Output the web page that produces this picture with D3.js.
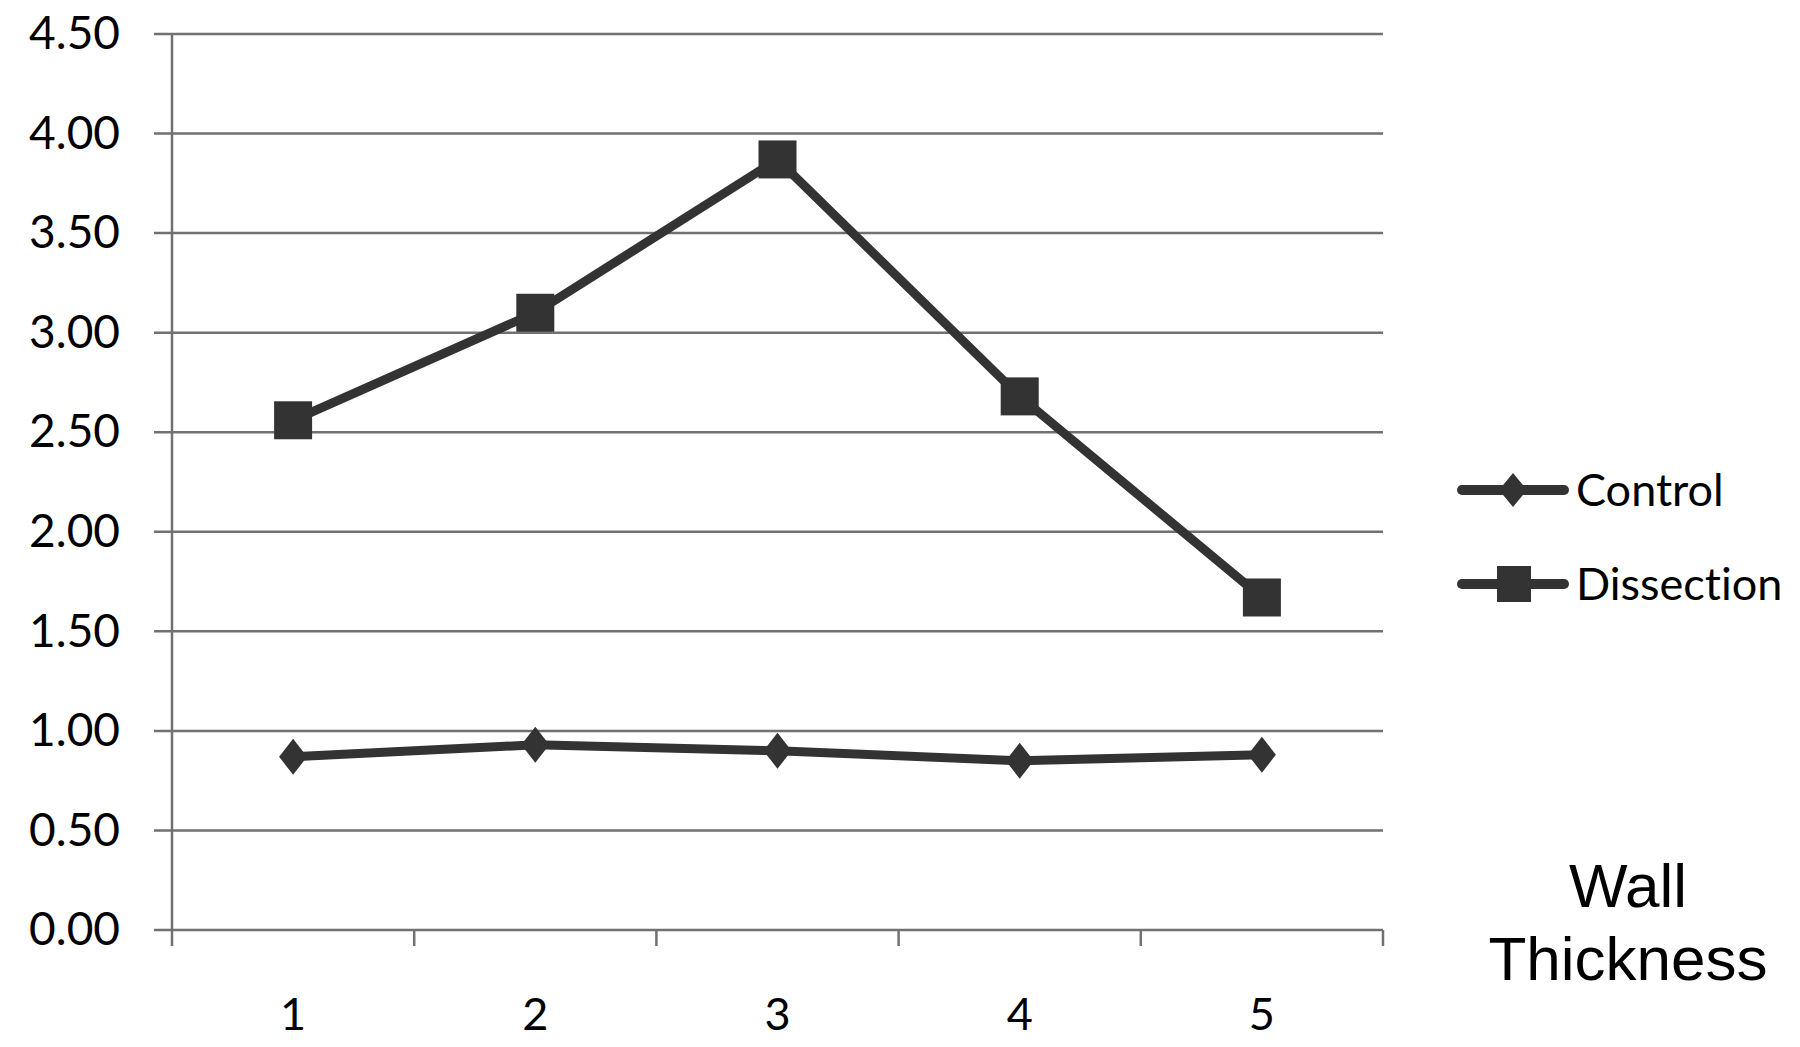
<!DOCTYPE html>
<html>
<head>
<meta charset="utf-8">
<script src="https://cdn.jsdelivr.net/npm/d3@7"></script>
<style>
  html, body { margin: 0; padding: 0; background: #fff; }
  svg { display: block; }
  text { font-family: Lato, "Open Sans", sans-serif; fill: #000; font-variant-ligatures: none; }
</style>
</head>
<body>
<svg width="1800" height="1047"></svg>
<script>
// data
const categories = ["1", "2", "3", "4", "5"];
const control    = [0.87, 0.93, 0.90, 0.85, 0.88];
const dissection = [2.56, 3.10, 3.87, 2.68, 1.67];
const yTicks     = [0, 0.5, 1, 1.5, 2, 2.5, 3, 3.5, 4, 4.5];
const seriesNames = ["Control", "Dissection"];

const svg = d3.select("svg");
const plotL = 172, plotR = 1383, plotT = 34, plotB = 930;
const ink = "#333333", gridCol = "#717171";

const x = d3.scaleBand().domain(categories).range([plotL, plotR]).padding(0);
const y = d3.scaleLinear().domain([0, 4.5]).range([plotB, plotT]);

// horizontal gridlines (with small outward tick on the left)
svg.append("g").selectAll("line")
    .data(yTicks)
    .enter().append("line")
    .attr("x1", plotL - 18).attr("x2", plotR)
    .attr("y1", d => y(d)).attr("y2", d => y(d))
    .attr("stroke", gridCol).attr("stroke-width", 2.5);

// y axis labels
const yAxis = svg.append("g")
    .attr("transform", `translate(${plotL},0)`)
    .call(d3.axisLeft(y).tickValues(yTicks).tickFormat(d3.format(".2f")).tickSize(0).tickPadding(52));
yAxis.select(".domain").remove();
yAxis.selectAll("text").attr("font-size", 46).attr("font-family", "Lato, sans-serif").attr("fill", "#000");

// vertical axis line
svg.append("line")
    .attr("x1", plotL).attr("x2", plotL).attr("y1", plotT).attr("y2", plotB + 16)
    .attr("stroke", gridCol).attr("stroke-width", 2.5);

// x axis: ticks at category boundaries
const bounds = categories.map(c => x(c)).concat([x.range()[1]]);
svg.append("g").selectAll("line")
    .data(bounds.slice(1))
    .enter().append("line")
    .attr("x1", d => d).attr("x2", d => d)
    .attr("y1", plotB).attr("y2", plotB + 16)
    .attr("stroke", gridCol).attr("stroke-width", 2.5);

const xAxis = svg.append("g")
    .attr("transform", `translate(0,${plotB})`)
    .call(d3.axisBottom(x).tickSize(0).tickPadding(68));
xAxis.select(".domain").remove();
xAxis.selectAll("text").attr("font-size", 45).attr("font-family", "Lato, sans-serif").attr("fill", "#000");

const cx = i => x(categories[i]) + x.bandwidth() / 2;
const line = d3.line().x((d, i) => cx(i)).y(d => y(d));

// series lines
[control, dissection].forEach(s => {
  svg.append("path")
      .datum(s)
      .attr("d", line)
      .attr("fill", "none")
      .attr("stroke", ink)
      .attr("stroke-width", 9)
      .attr("stroke-linejoin", "round");
});

// marker shapes
const diamond = (px, py, w, h) => `M${px},${py - h / 2}L${px + w / 2},${py}L${px},${py + h / 2}L${px - w / 2},${py}Z`;

svg.append("g").selectAll("path")
    .data(control)
    .enter().append("path")
    .attr("d", (d, i) => diamond(cx(i), y(d), 28, 36))
    .attr("fill", ink);

const sq = 38;
svg.append("g").selectAll("rect")
    .data(dissection)
    .enter().append("rect")
    .attr("x", (d, i) => cx(i) - sq / 2)
    .attr("y", d => y(d) - sq / 2)
    .attr("width", sq).attr("height", sq)
    .attr("fill", ink);

// legend
const legend = svg.append("g");
const legY = [490, 584];
seriesNames.forEach((name, i) => {
  const g = legend.append("g");
  g.append("line")
      .attr("x1", 1462).attr("x2", 1564)
      .attr("y1", legY[i]).attr("y2", legY[i])
      .attr("stroke", ink).attr("stroke-width", 10).attr("stroke-linecap", "round");
  if (i === 0) {
    g.append("path").attr("d", diamond(1513, legY[i], 28, 34)).attr("fill", ink);
  } else {
    g.append("rect").attr("x", 1497).attr("y", legY[i] - 18).attr("width", 34).attr("height", 36).attr("fill", ink);
  }
  g.append("text")
      .attr("x", 1576).attr("y", legY[i] + 16)
      .attr("font-size", 45)
      .text(name);
});

// axis title (Arial-like face)
const title = svg.append("text")
    .attr("text-anchor", "middle")
    .style("font-family", "'Liberation Sans', Arial, sans-serif")
    .attr("font-size", 62);
title.append("tspan").attr("x", 1628).attr("y", 907).text("Wall");
title.append("tspan").attr("x", 1628).attr("y", 980).text("Thickness");
</script>
</body>
</html>
